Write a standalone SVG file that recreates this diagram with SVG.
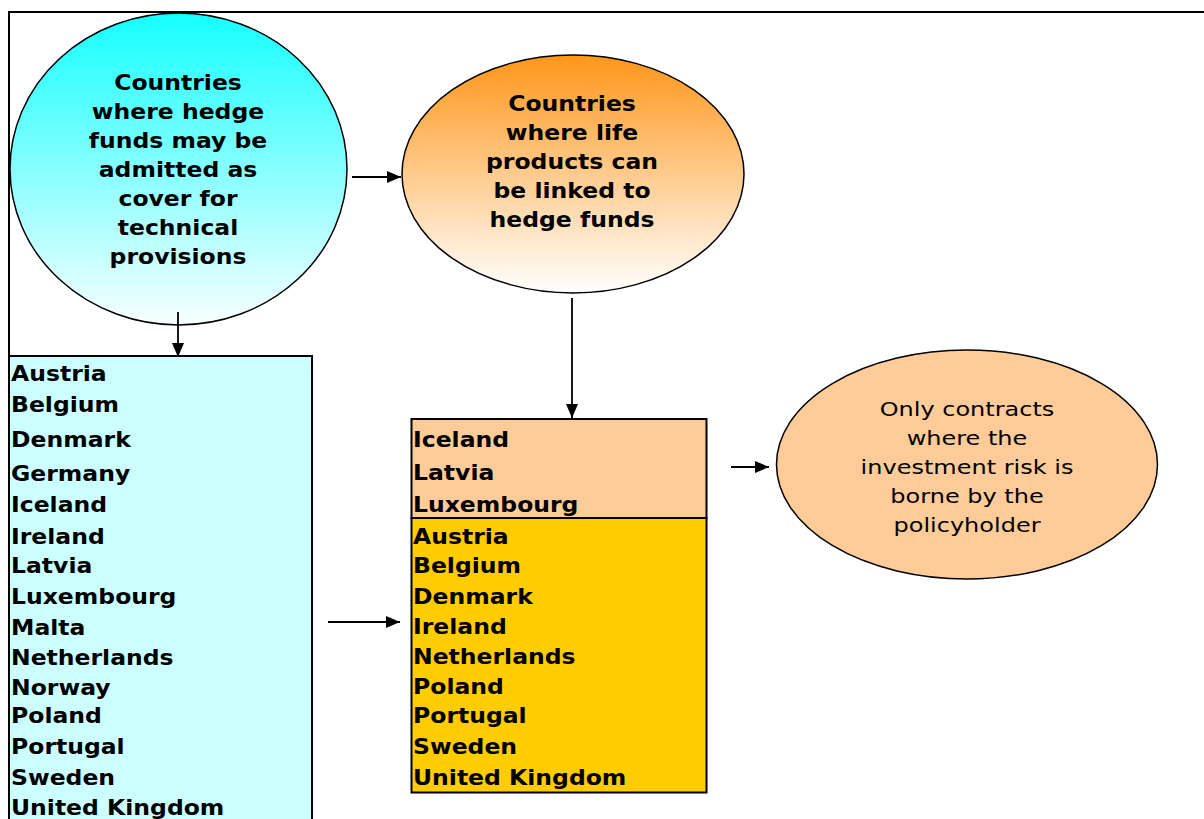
<svg xmlns="http://www.w3.org/2000/svg" width="1204" height="819" viewBox="0 0 1204 819">
<style>
.b{font-family:"DejaVu Sans","Liberation Sans",sans-serif;font-weight:bold;font-size:21px;fill:#000}
.r{font-family:"DejaVu Sans","Liberation Sans",sans-serif;font-size:20px;fill:#000}
.c{text-anchor:middle}
.ln{stroke:#000;stroke-width:1.8;fill:none}
.sh{stroke:#000;stroke-width:2}
</style>
<defs>
<linearGradient id="gc" x1="0" y1="0" x2="0" y2="1">
<stop offset="0" stop-color="#14FFFF"/>
<stop offset="1" stop-color="#F8FFFF"/>
</linearGradient>
<linearGradient id="go" x1="0" y1="0" x2="0" y2="1">
<stop offset="0" stop-color="#FF961A"/>
<stop offset="1" stop-color="#FFFFFF"/>
</linearGradient>
<marker id="ah" viewBox="0 0 14 12" refX="14" refY="6" markerWidth="14" markerHeight="12" markerUnits="userSpaceOnUse" orient="auto">
<path d="M0,0 L14,6 L0,12 z" fill="#000"/>
</marker>
</defs>
<rect width="1204" height="819" fill="#fff"/>
<path d="M1204,12 H9 V819" stroke="#000" stroke-width="2" fill="none"/>

<g id="node-hedge-cover">
<ellipse cx="178.5" cy="169" rx="168.5" ry="156" fill="url(#gc)" stroke="#000" stroke-width="1.5"/>
<g transform="matrix(1.12,0,0,1,178,0)">
<text class="b c" x="0" y="90">Countries</text>
<text class="b c" x="0" y="119">where hedge</text>
<text class="b c" x="0" y="148">funds may be</text>
<text class="b c" x="0" y="177">admitted as</text>
<text class="b c" x="0" y="206">cover for</text>
<text class="b c" x="0" y="235">technical</text>
<text class="b c" x="0" y="264">provisions</text>
</g>
</g>

<g id="node-life-products">
<ellipse cx="573" cy="174" rx="171" ry="119" fill="url(#go)" stroke="#000" stroke-width="1.5"/>
<g transform="matrix(1.12,0,0,1,572,0)">
<text class="b c" x="0" y="111">Countries</text>
<text class="b c" x="0" y="140">where life</text>
<text class="b c" x="0" y="169">products can</text>
<text class="b c" x="0" y="198">be linked to</text>
<text class="b c" x="0" y="227">hedge funds</text>
</g>
</g>

<g id="node-list-cover">
<rect x="9" y="356" width="303" height="470" fill="#CCFFFF" class="sh"/>
<g transform="matrix(1.12,0,0,1,11,0)">
<text class="b" x="0" y="381">Austria</text>
<text class="b" x="0" y="412">Belgium</text>
<text class="b" x="0" y="447">Denmark</text>
<text class="b" x="0" y="481">Germany</text>
<text class="b" x="0" y="512">Iceland</text>
<text class="b" x="0" y="544">Ireland</text>
<text class="b" x="0" y="573">Latvia</text>
<text class="b" x="0" y="604">Luxembourg</text>
<text class="b" x="0" y="635">Malta</text>
<text class="b" x="0" y="665">Netherlands</text>
<text class="b" x="0" y="695">Norway</text>
<text class="b" x="0" y="723">Poland</text>
<text class="b" x="0" y="754">Portugal</text>
<text class="b" x="0" y="785">Sweden</text>
<text class="b" x="0" y="815">United Kingdom</text>
</g>
</g>

<g id="node-list-unit-linked">
<rect x="411.5" y="419" width="295" height="99" fill="#FFCC99" class="sh"/>
<g transform="matrix(1.12,0,0,1,413,0)">
<text class="b" x="0" y="447">Iceland</text>
<text class="b" x="0" y="480">Latvia</text>
<text class="b" x="0" y="512">Luxembourg</text>
</g>
</g>

<g id="node-list-life">
<rect x="411.5" y="518" width="295" height="274.5" fill="#FFCC00" class="sh"/>
<g transform="matrix(1.12,0,0,1,413,0)">
<text class="b" x="0" y="544">Austria</text>
<text class="b" x="0" y="573">Belgium</text>
<text class="b" x="0" y="604">Denmark</text>
<text class="b" x="0" y="634">Ireland</text>
<text class="b" x="0" y="664">Netherlands</text>
<text class="b" x="0" y="694">Poland</text>
<text class="b" x="0" y="723">Portugal</text>
<text class="b" x="0" y="754">Sweden</text>
<text class="b" x="0" y="785">United Kingdom</text>
</g>
</g>

<g id="node-only-contracts">
<ellipse cx="967" cy="464.5" rx="190.5" ry="114.5" fill="#FFCC99" stroke="#000" stroke-width="1.5"/>
<g transform="matrix(1.2,0,0,1,967,0)">
<text class="r c" x="0" y="416">Only contracts</text>
<text class="r c" x="0" y="445">where the</text>
<text class="r c" x="0" y="474">investment risk is</text>
<text class="r c" x="0" y="503">borne by the</text>
<text class="r c" x="0" y="532">policyholder</text>
</g>
</g>

<g id="connectors">
<line class="ln" x1="178" y1="312" x2="178" y2="357" marker-end="url(#ah)"/>
<line class="ln" x1="352" y1="177" x2="401" y2="177" marker-end="url(#ah)"/>
<line class="ln" x1="572" y1="298" x2="572" y2="418" marker-end="url(#ah)"/>
<line class="ln" x1="328" y1="622" x2="400" y2="622" marker-end="url(#ah)"/>
<line class="ln" x1="731" y1="467" x2="769" y2="467" marker-end="url(#ah)"/>
</g>
</svg>
